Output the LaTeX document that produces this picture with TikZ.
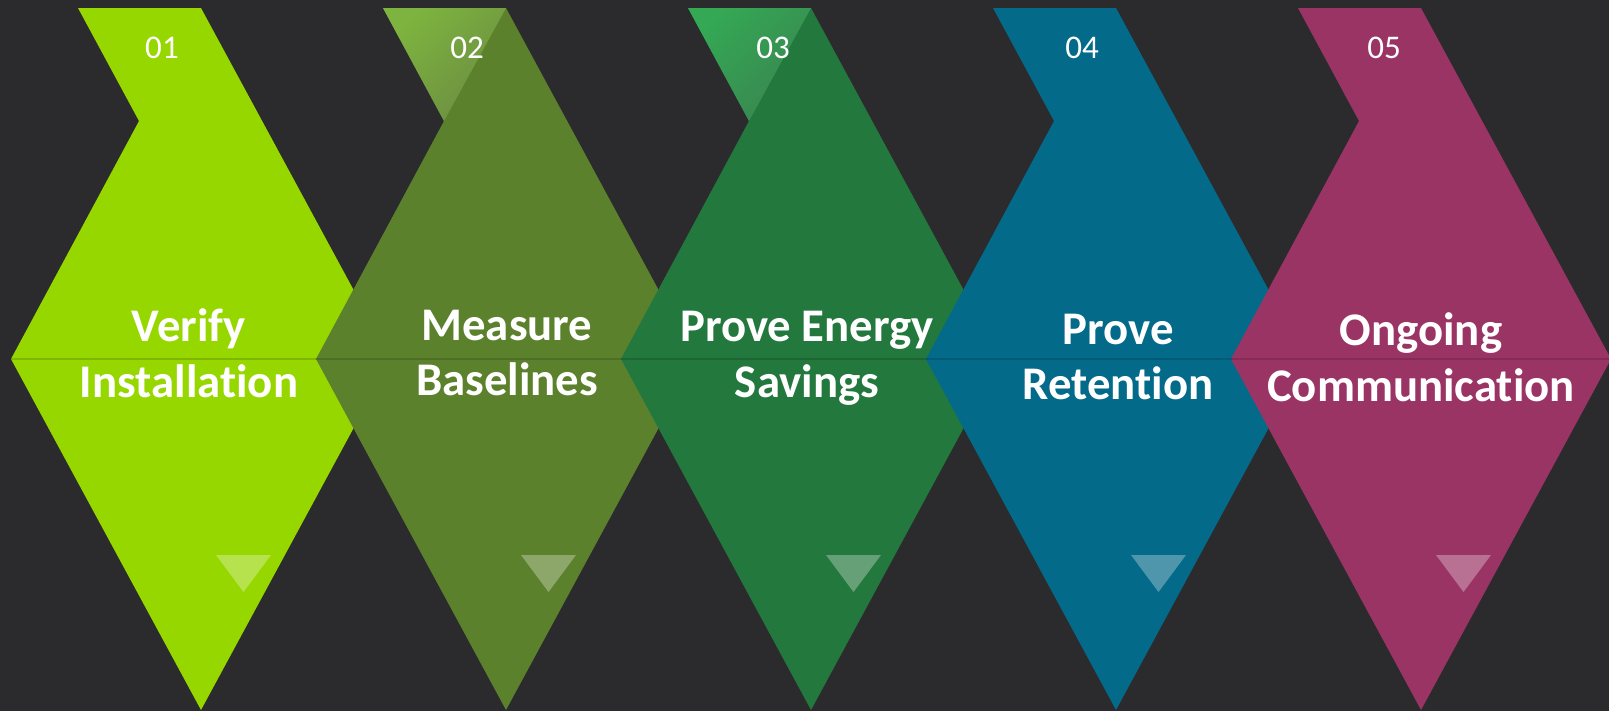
\documentclass[tikz,border=0pt]{standalone}
\usepackage{fontspec}
\setmainfont{Carlito}[Ligatures={NoCommon,NoRare}]
\usetikzlibrary{positioning}

\definecolor{canvas}{HTML}{2B2B2D}
\definecolor{limegreen}{HTML}{97D700}
\definecolor{olivegreen}{HTML}{5C812C}
\definecolor{olivelight}{HTML}{7DB43F}
\definecolor{forestgreen}{HTML}{23783D}
\definecolor{forestlight}{HTML}{34A854}
\definecolor{petrol}{HTML}{036A8A}
\definecolor{plum}{HTML}{9A3465}

\begin{document}
\begin{tikzpicture}[
x = 0.01cm,
y = -0.01cm,
every node/.style = {
	text = white,
	inner sep = 0pt
},
steptitle/.style = {
	font = \fontsize{13.3}{15.9}\selectfont\bfseries,
	align = center
},
stepnum/.style = {
	font = \fontsize{9.4}{11}\selectfont
},
tipmark/.style = {
	fill = white,
	fill opacity = 0.3
},
midline/.style = {
	draw = black,
	draw opacity = 0.15,
	line width = 0.5pt
},
flag/.style 2 args = {
	top color = #1,
	bottom color = #2,
	shading angle = 45
}
]

\useasboundingbox (0,0) rectangle (1609,711);
\fill[canvas] (0,0) rectangle (1609,711);

% step 01
\fill[limegreen] (78,8) -- (201,8) -- (391,359) -- (201,710) -- (11,359) -- (139,121) -- cycle;
\draw[midline] (11,359) -- (391,359);
\fill[tipmark] (216,555) -- (271,555) -- (243.5,592) -- cycle;

% step 02
\begin{scope}[shift={(305,0)}]
\fill[olivegreen] (78,8) -- (201,8) -- (391,359) -- (201,710) -- (11,359) -- (139,121) -- cycle;
\shade[flag={olivelight}{olivegreen!90!white}] (78,8) -- (201,8) -- (139,121) -- cycle;
\draw[midline] (11,359) -- (391,359);
\fill[tipmark] (216,555) -- (271,555) -- (243.5,592) -- cycle;
\end{scope}

% step 03
\begin{scope}[shift={(610,0)}]
\fill[forestgreen] (78,8) -- (201,8) -- (391,359) -- (201,710) -- (11,359) -- (139,121) -- cycle;
\shade[flag={forestlight}{forestgreen!90!white}] (78,8) -- (201,8) -- (139,121) -- cycle;
\draw[midline] (11,359) -- (391,359);
\fill[tipmark] (216,555) -- (271,555) -- (243.5,592) -- cycle;
\end{scope}

% step 04
\begin{scope}[shift={(915,0)}]
\fill[petrol] (78,8) -- (201,8) -- (391,359) -- (201,710) -- (11,359) -- (139,121) -- cycle;
\draw[midline] (11,359) -- (391,359);
\fill[tipmark] (216,555) -- (271,555) -- (243.5,592) -- cycle;
\end{scope}

% step 05
\begin{scope}[shift={(1220,0)}]
\fill[plum] (78,8) -- (201,8) -- (391,359) -- (201,710) -- (11,359) -- (139,121) -- cycle;
\draw[midline] (11,359) -- (391,359);
\fill[tipmark] (216,555) -- (271,555) -- (243.5,592) -- cycle;
\end{scope}

\node[stepnum] (num1) at (162,48) {01};
\node[stepnum] (num2) at (467,48) {02};
\node[stepnum] (num3) at (773,48) {03};
\node[stepnum] (num4) at (1082,48) {04};
\node[stepnum] (num5) at (1384,48) {05};

\node[steptitle] (verify)    at (189,353)  {Verify\\Installation};
\node[steptitle] (measure)   at (507,353)  {Measure\\Baselines};
\node[steptitle] (energy)    at (807,358)  {Prove Energy\\Savings};
\node[steptitle] (retention) at (1118,357) {Prove\\Retention};
\node[steptitle] (ongoing)   at (1421,357) {Ongoing\\Communication};
\end{tikzpicture}
\end{document}
